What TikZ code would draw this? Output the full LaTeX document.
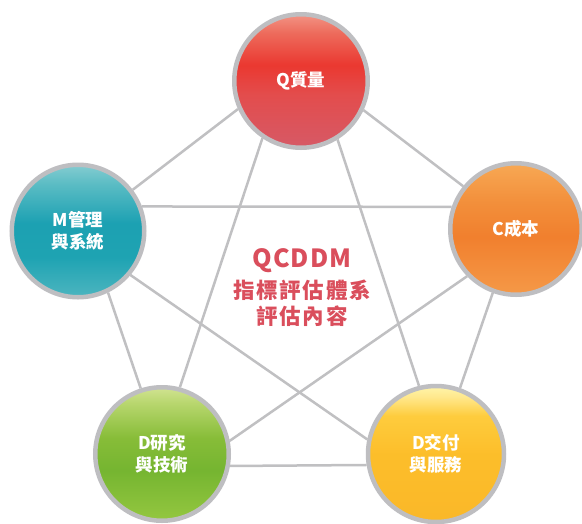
\documentclass[tikz,border=0pt]{standalone}
\usepackage{fontspec}
\newfontfamily\cjk{Noto Sans CJK TC}
\newfontfamily\cjkls{Noto Sans CJK TC}[LetterSpace=8]
\newfontfamily\cjklt{Noto Sans CJK TC}[LetterSpace=5]
\pgfdeclarelayer{bg}
\pgfdeclarelayer{lines}
\pgfsetlayers{bg,lines,main}
\definecolor{edgegray}{RGB}{192,192,194}
\definecolor{ringgray}{RGB}{190,190,193}
\definecolor{titlered}{RGB}{218,78,92}
\pgfdeclareverticalshading{qsh}{100bp}{rgb(0bp)=(0.84,0.35,0.40); rgb(25bp)=(0.84,0.35,0.40); rgb(45bp)=(0.89,0.30,0.30); rgb(56bp)=(0.92,0.22,0.19); rgb(68bp)=(0.93,0.42,0.36); rgb(75bp)=(0.95,0.58,0.52); rgb(100bp)=(0.95,0.58,0.52)}
\pgfdeclareverticalshading{msh}{100bp}{rgb(0bp)=(0.30,0.71,0.75); rgb(25bp)=(0.30,0.71,0.75); rgb(40bp)=(0.12,0.64,0.70); rgb(53bp)=(0.11,0.63,0.70); rgb(68bp)=(0.36,0.74,0.77); rgb(75bp)=(0.52,0.80,0.82); rgb(100bp)=(0.52,0.80,0.82)}
\pgfdeclareverticalshading{csh}{100bp}{rgb(0bp)=(0.96,0.60,0.28); rgb(25bp)=(0.96,0.60,0.28); rgb(47bp)=(0.945,0.50,0.18); rgb(60bp)=(0.95,0.56,0.23); rgb(75bp)=(0.97,0.66,0.33); rgb(100bp)=(0.97,0.66,0.33)}
\pgfdeclareverticalshading{rsh}{100bp}{rgb(0bp)=(0.58,0.78,0.25); rgb(25bp)=(0.58,0.78,0.25); rgb(44bp)=(0.46,0.71,0.19); rgb(56bp)=(0.53,0.74,0.22); rgb(69bp)=(0.72,0.84,0.43); rgb(75bp)=(0.82,0.89,0.57); rgb(100bp)=(0.82,0.89,0.57)}
\pgfdeclareverticalshading{jsh}{100bp}{rgb(0bp)=(0.98,0.72,0.16); rgb(25bp)=(0.98,0.72,0.16); rgb(50bp)=(0.99,0.745,0.165); rgb(64bp)=(0.995,0.80,0.24); rgb(71bp)=(1.0,0.91,0.55); rgb(75bp)=(1.0,0.96,0.67); rgb(100bp)=(1.0,0.96,0.67)}
\begin{document}
\begin{tikzpicture}[x=1pt,y=-1pt,
  ball/.style={circle, draw=ringgray, line width=4.5pt, inner sep=0pt, align=center,
    text=white, shade, font=\cjk\bfseries\fontsize{17.5}{22}\selectfont},
  link/.style={draw=edgegray, line width=2.5pt},
  title/.style={text=titlered, inner sep=0pt}]
\begin{pgfonlayer}{bg}
\fill[white] (0,0) rectangle (582,523);
\end{pgfonlayer}
\useasboundingbox (0,0) rectangle (582,523);
\node[ball, minimum size=133.5pt, shading=qsh] (Q) at (301,81) {Q質量};
\node[ball, minimum size=132.5pt, shading=msh] (M) at (78,231) {M管理\\與系統};
\node[ball, minimum size=131.5pt, shading=csh] (C) at (516,229) {C成本};
\node[ball, minimum size=133.5pt, shading=rsh] (R) at (162,454) {D研究\\與技術};
\node[ball, minimum size=136pt, shading=jsh] (J) at (436,454) {D交付\\與服務};
\begin{pgfonlayer}{lines}
\draw[link] (Q.204) -- (M.37);
\draw[link] (Q.335) -- (C.141);
\draw[link] (M.21) -- (C.161);
\draw[link] (Q.236) -- (R.75);
\draw[link] (Q.302) -- (J.104);
\draw[link] (M.296) -- (R.108);
\draw[link] (C.250) -- (J.70);
\draw[link] (M.320) -- (J.168);
\draw[link] (C.224) -- (R.11);
\draw[link] (R.350.5) -- (J.189.5);
\end{pgfonlayer}
\node[title, font=\cjklt\bfseries\fontsize{25}{28}\selectfont] (T1) at (302,261) {QCDDM};
\node[title, font=\cjkls\bfseries\fontsize{21.5}{26}\selectfont] (T2) at (302,290) {指標評估體系};
\node[title, font=\cjkls\bfseries\fontsize{21.5}{26}\selectfont] (T3) at (302,316) {評估內容};
\end{tikzpicture}
\end{document}
